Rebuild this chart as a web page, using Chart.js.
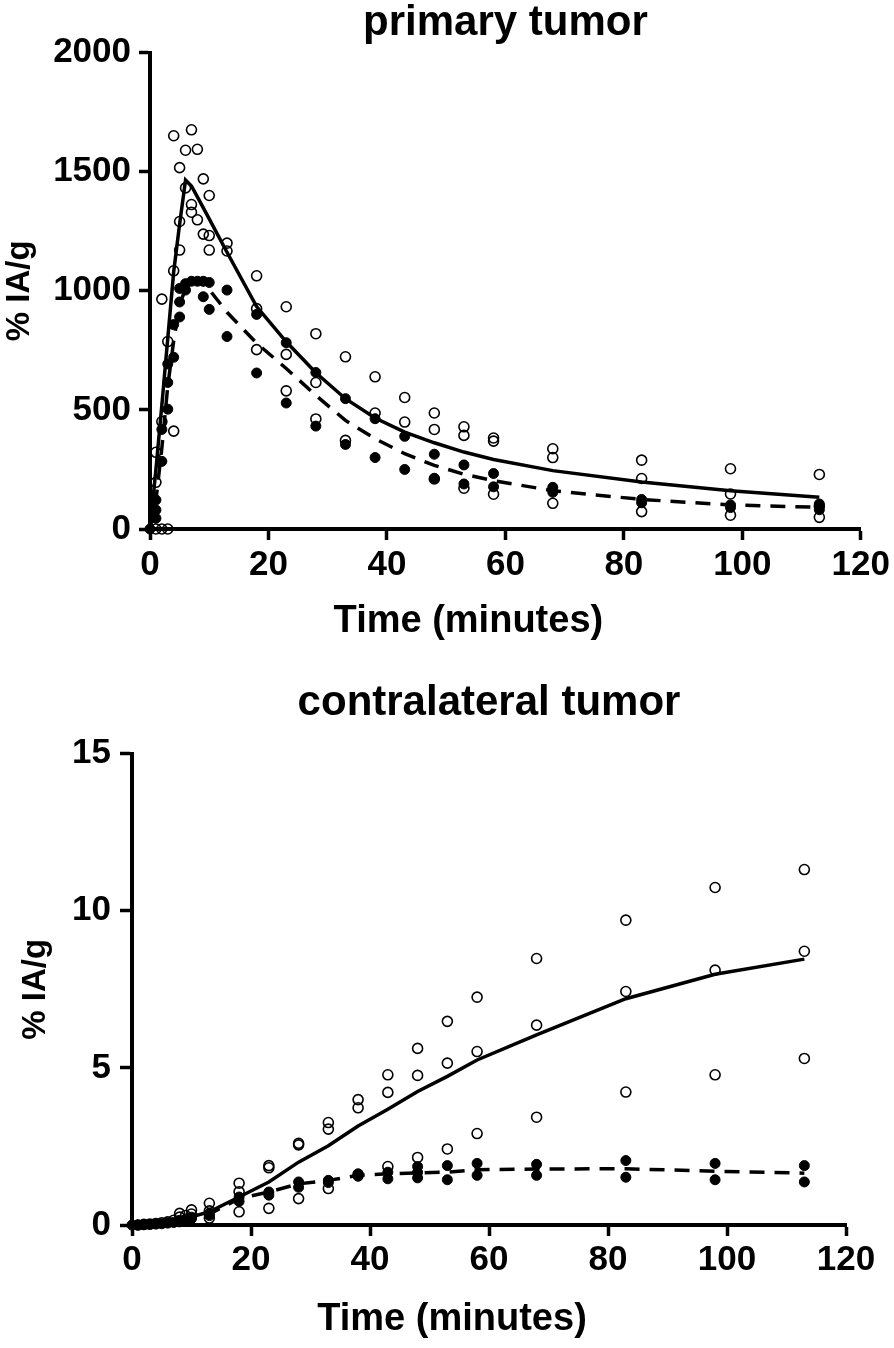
<!DOCTYPE html>
<html>
<head>
<meta charset="utf-8">
<script src="https://cdn.jsdelivr.net/npm/chart.js@4"></script>
<style>
  body { margin: 0; background: #fff; }
  #wrap { position: relative; width: 894px; height: 1348px; background: #fff; }
  #top { position: absolute; left: 0; top: 0; }
  #bottom { position: absolute; left: 0; top: 650px; }
</style>
</head>
<body>
<div id="wrap">
  <canvas id="top" width="894" height="650"></canvas>
  <canvas id="bottom" width="894" height="698"></canvas>
</div>
<script>
// values, [minutes, %IA/g]
const primaryOpen = [
  [1,0],[2,0],[3,0],[1,196],[1,322],[2,451],[2,965],[3,787],[4,411],[4,1084],[4,1651],
  [5,1171],[5,1291],[5,1517],[6,1432],[6,1590],[7,1330],[7,1362],[7,1676],[8,1298],[8,1594],
  [9,1238],[9,1470],[10,1171],[10,1232],[10,1400],[13,1167],[13,1200],
  [18,753],[18,925],[18,1063],[23,580],[23,733],[23,933],[28,462],[28,615],[28,820],
  [33,372],[33,723],[38,487],[38,639],[43,449],[43,552],[48,210],[48,418],[48,487],
  [53,171],[53,393],[53,429],[58,146],[58,369],[58,382],[68,108],[68,300],[68,337],
  [83,73],[83,212],[83,289],[98,58],[98,147],[98,253],[113,49],[113,95],[113,229]
];
const primaryFilled = [
  [0,0],[1,45],[1,80],[1,122],[2,284],[2,418],[3,503],[3,615],[3,693],[4,721],[4,858],
  [5,890],[5,953],[5,1010],[6,1003],[6,1030],[7,1040],[8,1040],[9,975],[9,1040],[10,922],[10,1035],
  [13,808],[13,1003],[18,655],[18,901],[23,529],[23,782],[28,432],[28,657],[33,355],[33,547],
  [38,300],[38,463],[43,250],[43,389],[48,213],[48,314],[53,189],[53,269],[58,177],[58,233],
  [68,154],[68,175],[83,110],[83,124],[98,90],[98,101],[113,81],[113,105]
];
const primaryOpenCurve = [
  [0,0],[1,250],[2,520],[3,800],[4,1080],[5,1280],[6,1465],[7,1440],[8,1394],[9,1348],[10,1302],
  [13,1162],[18,934],[23,786],[28,656],[33,547],[38,466],[43,407],[48,362],[53,323],[58,292],
  [68,245],[83,197],[98,161],[113,133]
];
const primaryFilledCurve = [
  [0,0],[1,120],[2,340],[3,600],[4,790],[5,940],[6,1010],[7,1030],[8,1035],[9,1025],[10,1005],
  [13,910],[18,780],[23,674],[28,561],[33,456],[38,379],[43,316],[48,267],[53,230],[58,203],
  [68,161],[83,124],[98,101],[113,91]
];

const contraOpen = [
  [1,0],[2,0.02],[3,0.03],[4,0.05],[5,0.07],[6,0.1],[7,0.15],[8,0.25],[8,0.37],[9,0.3],[10,0.35],[10,0.48],
  [13,0.22],[13,0.45],[13,0.69],[18,0.42],[18,1.06],[18,1.33],[23,0.53],[23,1.82],[23,1.89],
  [28,0.84],[28,2.55],[28,2.6],[33,1.16],[33,3.05],[33,3.26],[38,1.6],[38,3.73],[38,3.99],
  [43,1.86],[43,4.22],[43,4.78],[48,2.15],[48,4.76],[48,5.62],[53,2.42],[53,5.15],[53,6.48],
  [58,2.91],[58,5.52],[58,7.25],[68,3.43],[68,6.36],[68,8.48],[83,4.23],[83,7.43],[83,9.7],
  [98,4.78],[98,8.11],[98,10.74],[113,5.3],[113,8.71],[113,11.31]
];
const contraFilled = [
  [0,0],[1,0],[2,0.01],[3,0.02],[4,0.03],[5,0.04],[6,0.06],[7,0.08],[8,0.1],[8,0.15],[9,0.18],
  [10,0.2],[10,0.25],[13,0.3],[13,0.37],[18,0.75],[18,0.89],[23,0.95],[23,1.05],[28,1.2],[28,1.37],
  [33,1.35],[33,1.42],[38,1.55],[38,1.63],[43,1.47],[43,1.68],[48,1.5],[48,1.68],[48,1.86],
  [53,1.44],[53,1.89],[58,1.58],[58,1.96],[68,1.58],[68,1.93],[83,1.52],[83,2.05],
  [98,1.44],[98,1.96],[113,1.37],[113,1.89]
];
const contraOpenCurve = [
  [0,0],[2,0.01],[4,0.03],[6,0.08],[8,0.16],[10,0.26],[13,0.42],[18,0.89],[23,1.37],[28,2.0],
  [33,2.52],[38,3.15],[43,3.68],[48,4.25],[53,4.73],[58,5.25],[68,6.05],[83,7.2],[98,7.98],[113,8.46]
];
const contraFilledCurve = [
  [0,0],[4,0.02],[8,0.12],[13,0.35],[18,0.84],[23,1.05],[28,1.31],[33,1.42],[38,1.58],[43,1.63],
  [48,1.66],[53,1.68],[58,1.76],[68,1.78],[83,1.79],[98,1.71],[113,1.65]
];

const timeTicks = { min: 0, max: 120, step: 20 };

Chart.defaults.font.family = "'Liberation Sans', Arial, sans-serif";
Chart.defaults.color = '#000';

const toXY = arr => arr.map(p => ({ x: p[0], y: p[1] }));

// x axis title sits a bit left of centre in the original
const xCaption = {
  id: 'xCaption',
  afterDraw(chart, args, opts) {
    const ctx = chart.ctx;
    const a = chart.chartArea;
    ctx.save();
    ctx.font = "bold 38px 'Liberation Sans', Arial, sans-serif";
    ctx.fillStyle = '#000';
    ctx.textAlign = 'center';
    ctx.textBaseline = 'alphabetic';
    ctx.fillText(opts.text, (a.left + a.right) / 2 + opts.dx, opts.y);
    ctx.restore();
  }
};

function makeChart(id, o) {
  const datasets = [
    { data: toXY(o.openCurve), showLine: true, borderColor: '#000', borderWidth: 3.5,
      pointRadius: 0, tension: 0, clip: false, order: 4 },
    { data: toXY(o.filledCurve), showLine: true, borderColor: '#000', borderWidth: 3.5,
      borderDash: [15, 10], pointRadius: 0, tension: 0, clip: false, order: 3 },
    { data: toXY(o.filled), pointRadius: 5, pointBackgroundColor: '#000',
      pointBorderColor: '#000', pointBorderWidth: 1, clip: false, order: 2 },
    { data: toXY(o.open), pointRadius: 5, pointBackgroundColor: 'rgba(0,0,0,0)',
      pointBorderColor: '#000', pointBorderWidth: 1.6, clip: false, order: 1 }
  ];

  return new Chart(document.getElementById(id), {
    type: 'scatter',
    data: { datasets: datasets },
    options: {
      responsive: false,
      animation: false,
      layout: { padding: { top: o.padTop, right: o.padRight, left: 0, bottom: 0 } },
      plugins: {
        legend: { display: false },
        tooltip: { enabled: false },
        title: {
          display: true, text: o.title, fullSize: false, color: '#000',
          font: { size: 42, weight: 'bold', lineHeight: 0.8 },
          padding: { top: o.titleTop, bottom: o.titleGap }
        },
        xCaption: { text: 'Time (minutes)', dx: -37, y: o.captionY }
      },
      scales: {
        x: {
          type: 'linear', min: timeTicks.min, max: timeTicks.max,
          ticks: { stepSize: timeTicks.step, padding: o.xTickPad, maxRotation: 0,
                   color: '#000', font: { size: 35, weight: 'bold' },
                   callback: v => String(v) },
          grid: { drawOnChartArea: false, tickLength: 11, tickWidth: 3.5, tickColor: '#000' },
          border: { color: '#000', width: 4 },
          afterFit: s => { s.height = o.xHeight; }
        },
        y: {
          min: o.yMin, max: o.yMax,
          ticks: { stepSize: o.yStep, padding: o.yTickPad, color: '#000',
                   font: { size: 35, weight: 'bold' },
                   callback: v => String(v) },
          grid: { drawOnChartArea: false, tickLength: o.yTickLen, tickWidth: 3.5, tickColor: '#000' },
          border: { color: '#000', width: 4 },
          title: { display: true, text: '% IA/g', color: '#000',
                   font: { size: 33, weight: 'bold' }, padding: { top: o.yTitlePad, bottom: 0 } },
          afterFit: s => { s.width = o.yWidth; }
        }
      }
    },
    plugins: [xCaption]
  });
}

makeChart('top', {
  title: 'primary tumor',
  open: primaryOpen, filled: primaryFilled,
  openCurve: primaryOpenCurve, filledCurve: primaryFilledCurve,
  yMin: 0, yMax: 2000, yStep: 500,
  padTop: 0, padRight: 32, titleTop: 7, titleGap: 12,
  xHeight: 121, yWidth: 150, xTickPad: 4, yTickPad: 8, yTickLen: 11, yTitlePad: 0,
  captionY: 632
});

makeChart('bottom', {
  title: 'contralateral tumor',
  open: contraOpen, filled: contraFilled,
  openCurve: contraOpenCurve, filledCurve: contraFilledCurve,
  yMin: 0, yMax: 15, yStep: 5,
  padTop: 27, padRight: 48, titleTop: 10, titleGap: 33,
  xHeight: 123, yWidth: 132, xTickPad: 3, yTickPad: 9, yTickLen: 12, yTitlePad: 16,
  captionY: 680
});
</script>
</body>
</html>
